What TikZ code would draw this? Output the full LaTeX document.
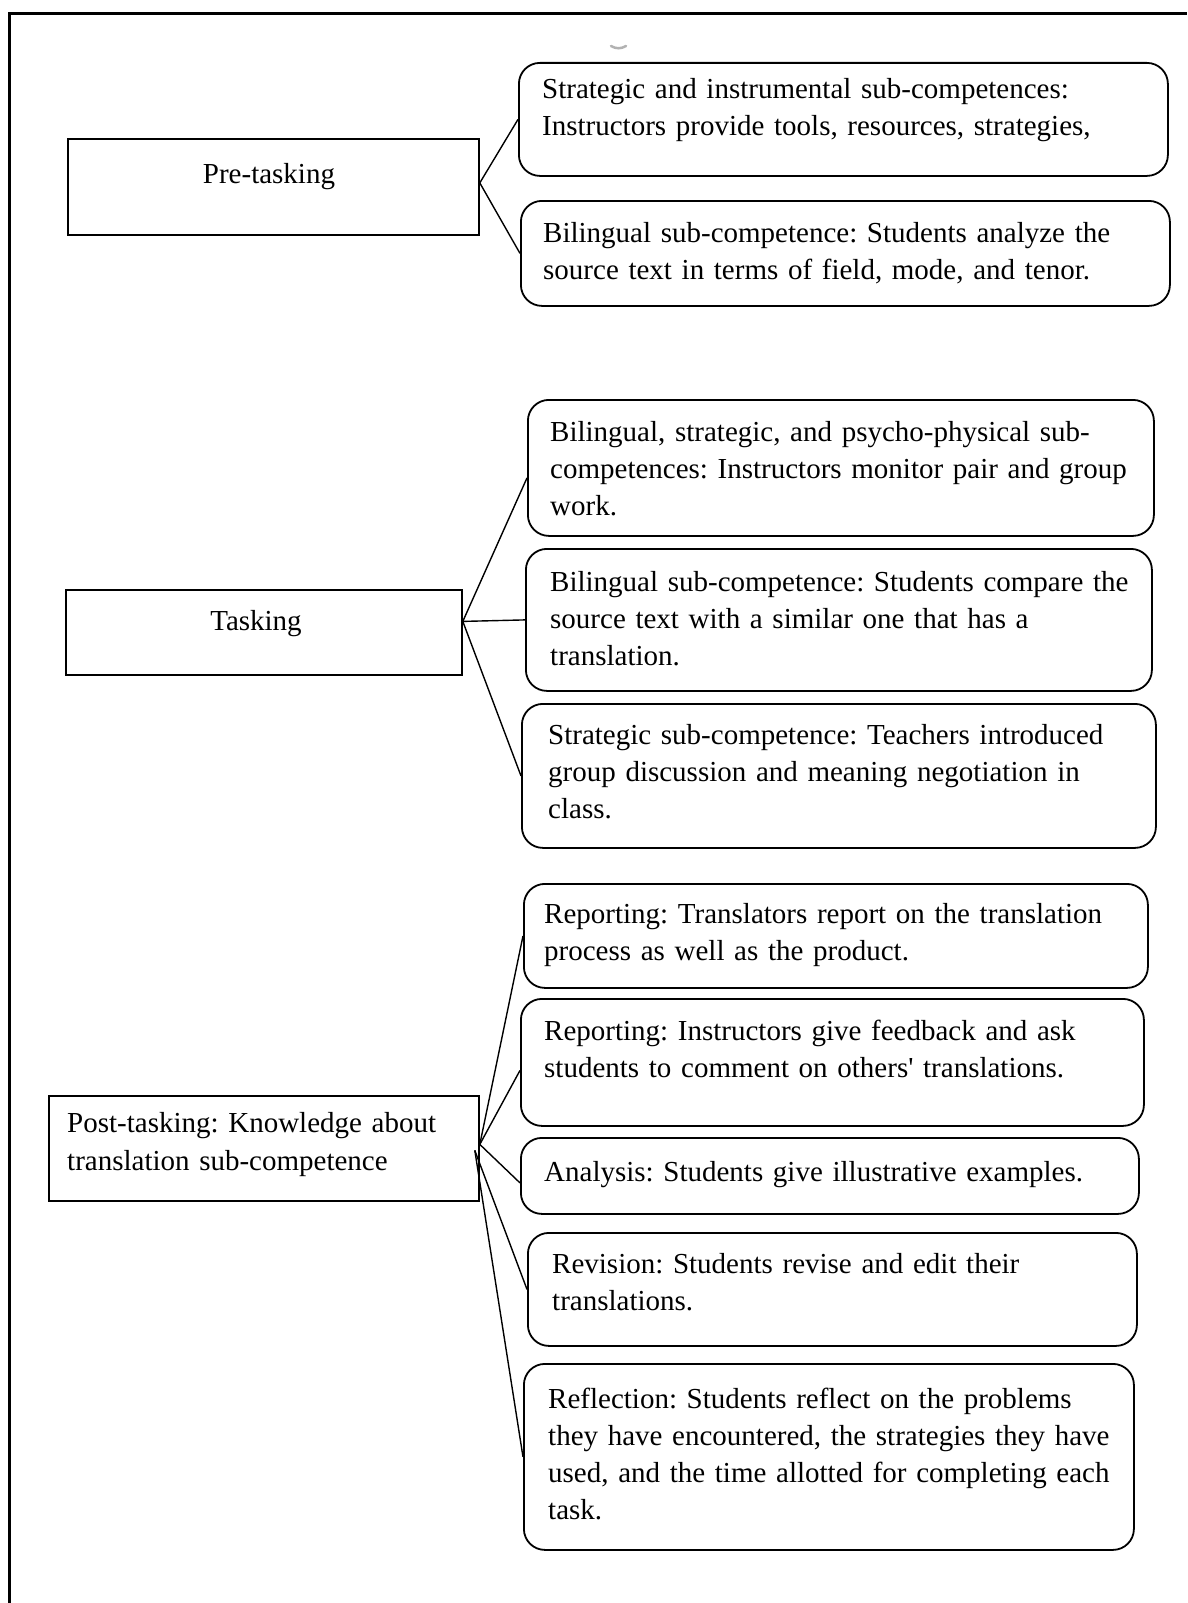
\documentclass[tikz,border=0pt]{standalone}
\usepackage{fontspec}
\setmainfont{Liberation Serif}
\usetikzlibrary{calc}
\frenchspacing
\tikzset{
 rbox/.style={draw, line width=1.8pt, rounded corners=21pt, anchor=north west, inner sep=0pt},
 sbox/.style={draw, line width=1.8pt, anchor=north west, inner sep=0pt},
 txt/.style={anchor=base west, inner sep=0pt, align=left, text width=640pt, font=\fontsize{29}{37}\selectfont\frenchspacing},
 ctxt/.style={anchor=base, inner sep=0pt, font=\fontsize{29}{37}\selectfont},
 link/.style={line width=1.4pt},
 frame/.style={line width=3pt},
}
\begin{document}
\begin{tikzpicture}[x=1pt,y=-1pt]
\useasboundingbox (0,0) rectangle (1187,1603);
\draw[frame] (9,1603) -- (9,14) -- (1187,14);
\draw[gray!60, line width=2.5pt, line cap=round] (611,46) .. controls (616,49) and (621,49) .. (626,46);

% Pre-tasking
\node[sbox, minimum width=411pt, minimum height=96pt] (pre) at (67,138) {};
\node[ctxt] (pret) at (269,183) {Pre-tasking};
\node[rbox, minimum width=649pt, minimum height=113pt] (a1) at (518,62) {};
\node[txt] (a1t) at (542,98) {Strategic and instrumental sub-competences:\\Instructors provide tools, resources, strategies,};
\node[rbox, minimum width=649pt, minimum height=105pt] (a2) at (520,200) {};
\node[txt] (a2t) at (543,242) {Bilingual sub-competence: Students analyze the\\source text in terms of field, mode, and tenor.};

% Tasking
\node[sbox, minimum width=396pt, minimum height=85pt] (task) at (65,589) {};
\node[ctxt] (taskt) at (256,630) {Tasking};
\node[rbox, minimum width=626pt, minimum height=136pt] (b1) at (527,399) {};
\node[txt] (b1t) at (550,441) {Bilingual, strategic, and psycho-physical sub-\\competences: Instructors monitor pair and group\\work.};
\node[rbox, minimum width=626pt, minimum height=142pt] (b2) at (525,548) {};
\node[txt] (b2t) at (550,591) {Bilingual sub-competence: Students compare the\\source text with a similar one that has a\\translation.};
\node[rbox, minimum width=634pt, minimum height=144pt] (b3) at (521,703) {};
\node[txt] (b3t) at (548,744) {Strategic sub-competence: Teachers introduced\\group discussion and meaning negotiation in\\class.};

% Post-tasking
\node[sbox, minimum width=430pt, minimum height=105pt] (post) at (48,1095) {};
\node[txt, font=\fontsize{29}{38}\selectfont\frenchspacing] (postt) at (67,1132) {Post-tasking: Knowledge about\\translation sub-competence};
\node[rbox, minimum width=624pt, minimum height=104pt] (c1) at (523,883) {};
\node[txt] (c1t) at (544,923) {Reporting: Translators report on the translation\\process as well as the product.};
\node[rbox, minimum width=623pt, minimum height=127pt] (c2) at (520,998) {};
\node[txt] (c2t) at (544,1040) {Reporting: Instructors give feedback and ask\\students to comment on others\textquotesingle\ translations.};
\node[rbox, minimum width=618pt, minimum height=76pt] (c3) at (520,1137) {};
\node[txt] (c3t) at (544,1181) {Analysis: Students give illustrative examples.};
\node[rbox, minimum width=609pt, minimum height=113pt] (c4) at (527,1232) {};
\node[txt] (c4t) at (552,1273) {Revision: Students revise and edit their\\translations.};
\node[rbox, minimum width=610pt, minimum height=186pt] (c5) at (523,1363) {};
\node[txt] (c5t) at (548,1408) {Reflection: Students reflect on the problems\\they have encountered, the strategies they have\\used, and the time allotted for completing each\\task.};

% connectors
\coordinate (pj) at ($(pre.east)+(0,-4)$);
\draw[link] (pj) -- (a1.west);
\draw[link] (pj) -- (a2.west);

\coordinate (tj) at ($(task.east)+(0,-11)$);
\draw[link] (tj) -- ($(b1.west)+(0,10)$);
\draw[link] (tj) -- (b2.west);
\draw[link] (tj) -- (b3.west);

\coordinate (pj1) at ($(post.east)+(0,-4)$);
\coordinate (pj2) at ($(post.east)+(-5,2)$);
\draw[link] (pj1) -- (c1.west);
\draw[link] (pj1) -- ($(c2.west)+(0,8)$);
\draw[link] (pj1) -- ($(c3.west)+(0,7)$);
\draw[link] (pj2) -- (c4.west);
\draw[link] (pj2) -- (c5.west);
\end{tikzpicture}
\end{document}
